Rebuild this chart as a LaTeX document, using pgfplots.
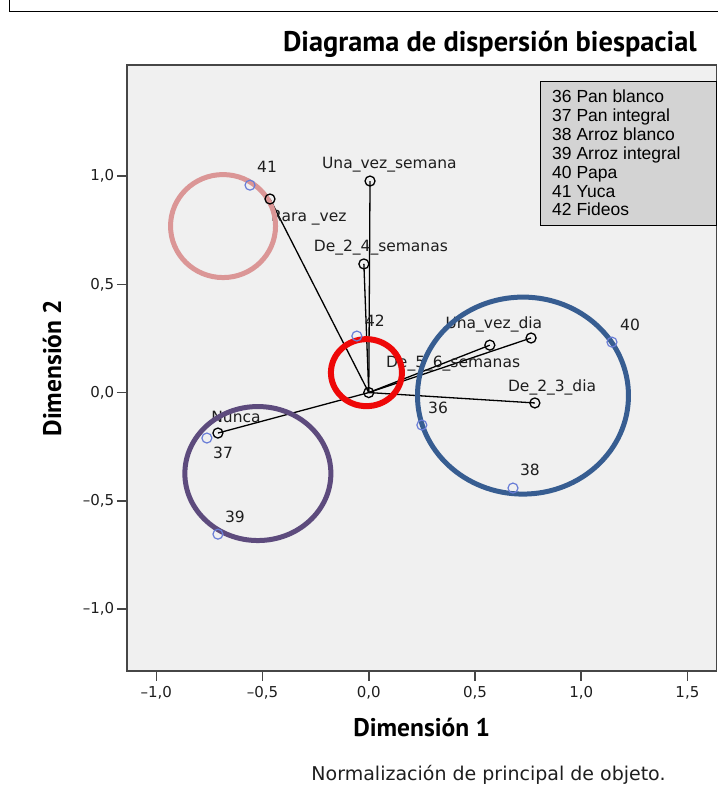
\documentclass[border=0pt]{standalone}
\usepackage{pgfplots}
\pgfplotsset{compat=1.18}
\usepackage{fontspec}
\setmainfont{DejaVu Sans}
\newfontfamily\ptsans{PT Sans}
\newfontfamily\arial{Liberation Sans}
\definecolor{bgc}{RGB}{240,240,240}
\definecolor{legendgray}{RGB}{211,211,211}
\definecolor{pinkc}{RGB}{219,150,150}
\definecolor{redc}{RGB}{238,8,8}
\definecolor{bluec}{RGB}{55,93,145}
\definecolor{purplec}{RGB}{93,75,125}
\definecolor{markblue}{RGB}{105,125,215}
\definecolor{axisgray}{RGB}{70,70,70}
\definecolor{txt}{RGB}{30,30,30}
\begin{document}
\begin{tikzpicture}
\useasboundingbox (0pt,0pt) rectangle (718pt,794pt);
\draw[line width=1.8pt] (9.5pt,794pt) -- (9.5pt,782.5pt) -- (718pt,782.5pt);
\begin{axis}[
  at={(126.8pt,123pt)}, anchor=south west,
  scale only axis, width=589.9pt, height=606pt,
  xmin=-1.139, xmax=1.638, ymin=-1.286, ymax=1.513,
  axis background/.style={fill=bgc},
  axis line style={draw=axisgray, line width=1.5pt},
  tick pos=left, tick align=outside, major tick length=10pt,
  tick style={draw=axisgray, line width=1.5pt},
  xtick={-1,-0.5,0,0.5,1,1.5},
  xticklabels={{–1,0},{–0,5},{0,0},{0,5},{1,0},{1,5}},
  ytick={-1,-0.5,0,0.5,1},
  yticklabels={{–1,0},{–0,5},{0,0},{0,5},{1,0}},
  ticklabel style={font=\fontsize{15}{15}\selectfont, text=txt},
  xticklabel style={yshift=-2pt},
  yticklabel style={xshift=1pt},
]
% lines from origin
\addplot[black, line width=1.3pt, no marks] coordinates {(0,0) (0.006,0.977)};
\addplot[black, line width=1.3pt, no marks] coordinates {(0,0) (-0.465,0.894)};
\addplot[black, line width=1.3pt, no marks] coordinates {(0,0) (-0.023,0.594)};
\addplot[black, line width=1.3pt, no marks] coordinates {(0,0) (0.570,0.219)};
\addplot[black, line width=1.3pt, no marks] coordinates {(0,0) (0.764,0.252)};
\addplot[black, line width=1.3pt, no marks] coordinates {(0,0) (0.782,-0.048)};
\addplot[black, line width=1.3pt, no marks] coordinates {(0,0) (-0.710,-0.187)};
% category points
\addplot[only marks, mark=o, mark size=5pt, mark options={draw=black, line width=1.3pt}] coordinates {
 (0,0) (0.006,0.977) (-0.465,0.894) (-0.023,0.594) (0.570,0.219) (0.764,0.252) (0.782,-0.048) (-0.710,-0.187)};
% object points
\addplot[only marks, mark=o, mark size=5pt, mark options={draw=markblue, line width=1.2pt}] coordinates {
 (0.250,-0.150) (-0.762,-0.210) (0.679,-0.441) (-0.710,-0.654) (1.145,0.233) (-0.559,0.958) (-0.056,0.261)};
% labels
\begin{scope}[every node/.style={anchor=base, inner sep=0pt, text=txt, font=\fontsize{15.5}{15.5}\selectfont}]
\node at (axis cs:0.097,1.035) {Una\_vez\_semana};
\node at (axis cs:-0.282,0.790) {Rara \_vez};
\node at (axis cs:0.057,0.652) {De\_2\_4\_semanas};
\node at (axis cs:0.029,0.305) {42};
\node at (axis cs:0.589,0.296) {Una\_vez\_dia};
\node at (axis cs:0.397,0.116) {De\_5\_6\_semanas};
\node at (axis cs:0.863,0.005) {De\_2\_3\_dia};
\node at (axis cs:0.326,-0.097) {36};
\node at (axis cs:1.230,0.287) {40};
\node at (axis cs:0.759,-0.383) {38};
\node at (axis cs:-0.625,-0.138) {Nunca};
\node at (axis cs:-0.686,-0.304) {37};
\node at (axis cs:-0.630,-0.600) {39};
\node at (axis cs:-0.479,1.016) {41};
\end{scope}
% highlight circles
\draw[pinkc, line width=5pt] (axis cs:-0.686,0.769) ellipse [x radius=52.5pt, y radius=51.5pt];
\draw[redc, line width=6pt] (axis cs:-0.011,0.092) ellipse [x radius=35.5pt, y radius=33.5pt];
\draw[bluec, line width=5pt] (axis cs:0.726,-0.014) ellipse [x radius=105.5pt, y radius=98.5pt];
\draw[purplec, line width=5pt] (axis cs:-0.522,-0.374) ellipse [x radius=73pt, y radius=67pt];
\end{axis}
% title and axis titles
\node[anchor=base east, inner sep=0pt, font=\ptsans\bfseries\fontsize{28.4}{28.4}\selectfont] at (697pt,742pt) {Diagrama de dispersión biespacial};
\node[font=\ptsans\bfseries\fontsize{25.5}{25.5}\selectfont] at (421.7pt,67pt) {Dimensión 1};
\node[rotate=90, font=\ptsans\bfseries\fontsize{25.5}{25.5}\selectfont] at (52pt,426pt) {Dimensión 2};
\node[font=\fontsize{19}{19}\selectfont, text=txt] at (488.5pt,19pt) {Normalización de principal de objeto.};
% legend box
\draw[fill=legendgray, draw=black, line width=1pt] (540pt,712pt) rectangle (716.7pt,568pt);
\foreach \t [count=\i from 0] in {36 Pan blanco,37 Pan integral,38 Arroz blanco,39 Arroz integral,40 Papa,41 Yuca,42 Fideos}{
  \node[anchor=base west, inner sep=0pt, font=\arial\fontsize{17.5}{17.5}\selectfont] at (552pt,{794pt-103pt-\i*18.83pt}) {\t};
}
\end{tikzpicture}
\end{document}
